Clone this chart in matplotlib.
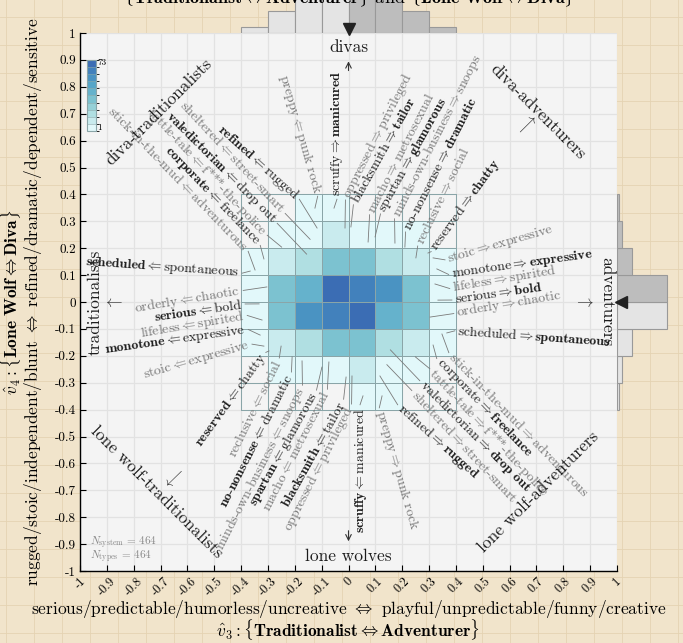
import numpy as np
import matplotlib
matplotlib.use('Agg')
from matplotlib import pyplot as plt
from matplotlib.colors import ListedColormap, BoundaryNorm
from matplotlib.lines import Line2D

plt.rcParams['font.family'] = ['cmr10', 'DejaVu Serif']
plt.rcParams['mathtext.fontset'] = 'cm'
plt.rcParams['axes.unicode_minus'] = False
plt.rcParams['axes.formatter.use_mathtext'] = True

# --- data -------------------------------------------------------------
x_edges = [-0.4, -0.3, -0.2, -0.1, 0.0, 0.1, 0.2, 0.3, 0.4]
y_edges = [-0.4, -0.3, -0.2, -0.1, 0.0, 0.1, 0.2, 0.3, 0.4]
# rows from top (v4 in 0.3..0.4) to bottom (v4 in -0.4..-0.3)
counts = [
  [0, 0, 3, 3, 0, 0, 0, 0],
  [0, 2, 3, 4, 3, 2, 1, 0],
  [2, 4, 6, 12, 12, 6, 4, 2],
  [2, 10, 16, 73, 28, 22, 10, 2],
  [2, 10, 22, 28, 73, 16, 10, 2],
  [2, 4, 6, 12, 12, 6, 4, 2],
  [0, 1, 2, 3, 4, 3, 2, 0],
  [0, 0, 0, 0, 3, 3, 0, 0],
]
n_system = 464
n_types = 464

cmap_colors = ['#e2f8fa', '#c9ebee', '#b0dfe2', '#95d0d7', '#7cc2d0',
               '#65b2cc', '#55a5c8', '#4a93c2', '#4281bc', '#3b6db4']
cmap_bounds = [1, 3.5, 5, 7, 9, 14, 18, 21, 27, 50, 73.5]

# trait pairs (left pole, right pole, emphasised)
pairs = [
  ('stoic', 'expressive', False),
  ('monotone', 'expressive', True),
  ('lifeless', 'spirited', False),
  ('serious', 'bold', True),
  ('orderly', 'chaotic', False),
  ('scheduled', 'spontaneous', True),
  ('stick-in-the-mud', 'adventurous', False),
  ('corporate', 'freelance', True),
  ('tattle-tale', 'f***-the-police', False),
  ('valedictorian', 'drop out', True),
  ('sheltered', 'street-smart', False),
  ('refined', 'rugged', True),
  ('preppy', 'punk rock', False),
  ('scruffy', 'manicured', True),
  ('oppressed', 'privileged', False),
  ('blacksmith', 'tailor', True),
  ('macho', 'metrosexual', False),
  ('spartan', 'glamorous', True),
  ('minds-own-business', 'snoops', False),
  ('no-nonsense', 'dramatic', True),
  ('reclusive', 'social', False),
  ('reserved', 'chatty', True),
]
# label layout: anchor x, y, rotation, reads outward, leader inner point
layout = [
  (0.371, 0.160, 16, True, 0.315, 0.164),
  (0.385, 0.104, 8, True, 0.329, 0.123),
  (0.389, 0.052, 9.5, True, 0.322, 0.067),
  (0.397, 0.009, 8, True, 0.333, 0.007),
  (0.404, -0.041, 9.5, True, 0.304, -0.056),
  (0.408, -0.108, -4, True, 0.366, -0.115),
  (-0.382, 0.197, -46, False, -0.348, 0.119),
  (-0.337, 0.219, -46, False, -0.315, 0.160),
  (-0.311, 0.257, -47, False, -0.249, 0.204),
  (-0.274, 0.301, -45, False, -0.156, 0.178),
  (-0.244, 0.338, -47, False, -0.143, 0.233),
  (-0.192, 0.390, -42, False, -0.117, 0.275),
  (-0.118, 0.405, -74, False, -0.125, 0.349),
  (-0.043, 0.394, 90, True, -0.054, 0.349),
  (-0.006, 0.390, 63, True, -0.013, 0.275),
  (0.024, 0.372, 61, True, 0.009, 0.279),
  (0.084, 0.335, 63, True, 0.073, 0.223),
  (0.125, 0.338, 61, True, 0.099, 0.242),
  (0.177, 0.320, 63, True, 0.173, 0.219),
  (0.218, 0.271, 63, True, 0.210, 0.204),
  (0.263, 0.219, 64, True, 0.251, 0.164),
  (0.315, 0.197, 54, True, 0.296, 0.182),
]

regions = ['divas', 'lone wolves', 'traditionalists', 'adventurers',
           'diva-traditionalists', 'diva-adventurers',
           'lone wolf-traditionalists', 'lone wolf-adventurers']
region_pos = [(0, 0.948, 0), (0, -0.944, 0), (-0.944, 0, 90), (0.962, 0, -90),
              (-0.705, 0.707, 45), (0.706, 0.707, -45),
              (-0.714, -0.705, -45), (0.709, -0.705, 45)]

ticks = np.round(np.linspace(-1, 1, 21), 1)
tick_labels = ['%g' % t for t in ticks]

# --- figure -----------------------------------------------------------
fig = plt.figure(figsize=(6.83, 6.43), dpi=100, facecolor='#f1e4cb')

# faint graph-paper pattern in the background
for px in np.arange(6, 683, 28):
  fig.add_artist(Line2D([px/683, px/683], [0, 1], color='#e4d3b2', lw=0.6, zorder=-5))
for py in np.arange(10, 643, 28):
  fig.add_artist(Line2D([0, 1], [py/643, py/643], color='#e4d3b2', lw=0.6, zorder=-5))

L, B, W, H = 80/683, 72/643, 537/683, 538/643
ax = fig.add_axes([L, B, W, H])
ax.set_facecolor('#f4f4f4')
ax.set_xlim(-1, 1)
ax.set_ylim(-1, 1)
ax.set_xticks(ticks)
ax.set_yticks(ticks)
ax.set_xticklabels(tick_labels, rotation=45, fontsize=9)
ax.set_yticklabels(tick_labels, fontsize=9.5)
ax.tick_params(direction='in', length=4, width=0.8, pad=3)
ax.grid(True, color='#e2e2e2', lw=0.9)
ax.set_axisbelow(True)
for s in ['top', 'right']:
  ax.spines[s].set_visible(False)
for s in ['left', 'bottom']:
  ax.spines[s].set_linewidth(1.0)

cmap = ListedColormap(cmap_colors)
norm = BoundaryNorm(cmap_bounds, cmap.N)
Z = np.ma.masked_equal(np.array(counts)[::-1], 0)
mesh = ax.pcolormesh(x_edges, y_edges, Z, cmap=cmap, norm=norm,
                     edgecolors='#8aa5a8', linewidth=0.6, zorder=2)

# colorbar
cax = ax.inset_axes([-0.975, 0.636, 0.035, 0.264], transform=ax.transData)
cb = fig.colorbar(mesh, cax=cax, spacing='uniform', drawedges=True)
cb.set_ticks([])
cb.outline.set_edgecolor('#8aa5a8')
cb.dividers.set_color('#8aa5a8')
ax.text(-0.935, 0.888, str(max(max(r) for r in counts)), fontsize=6.5, va='center')
ax.text(-0.935, 0.648, str(min(v for r in counts for v in r if v > 0)),
        fontsize=6.5, va='center')

# trait labels and their mirrored partners
dark_c, gray_c = '#1c1c1c', '#777777'

def bold(s):
  return '-'.join(r'$\mathbf{' + p.replace(' ', r'\ ') + '}$' for p in s.split('-'))

for (a, b, dark), (x, y, rot, outward, xi, yi) in zip(pairs, layout):
  for sgn in (1, -1):
    out = outward if sgn == 1 else not outward
    aa, bb = a, b
    if dark:
      if out:
        bb = bold(b)
      else:
        aa = bold(a)
    arrow = r'$\Rightarrow$' if out else r'$\Leftarrow$'
    tx, ty = sgn * x, sgn * y
    ax.text(tx, ty, aa + arrow + bb, rotation=rot, rotation_mode='anchor',
            ha='left' if out else 'right', va='center', fontsize=10,
            color=dark_c if dark else gray_c, zorder=4)
    d = np.array([np.cos(np.radians(rot)), np.sin(np.radians(rot))])
    p0 = np.array([tx, ty]) + (-0.012 if out else 0.012) * d
    ax.plot([p0[0], sgn * xi], [p0[1], sgn * yi], color='#7a7a7a', lw=0.6, zorder=3)

for name, (x, y, rot) in zip(regions, region_pos):
  ax.text(x, y, name, rotation=rot, ha='center', va='center', fontsize=12.5,
          color='#1c1c1c', rotation_mode='anchor', zorder=4)

for x, y, s in [(-0.875, 0, r'$\leftarrow$'), (0.878, 0, r'$\rightarrow$'),
                (0.664, 0.658, r'$\nearrow$'), (-0.653, -0.655, r'$\swarrow$')]:
  ax.text(x, y, s, ha='center', va='center', fontsize=12, color='#333333')
ax.annotate('', xy=(0, 0.905), xytext=(0, 0.85),
            arrowprops=dict(arrowstyle='->', lw=0.8, color='#333333'))
ax.annotate('', xy=(0, -0.9), xytext=(0, -0.84),
            arrowprops=dict(arrowstyle='->', lw=0.8, color='#333333'))

ax.text(-0.962, -0.896, r'$N_{\mathrm{system}}$ = %d' % n_system,
        fontsize=8, color='#8a8a8a', va='center')
ax.text(-0.962, -0.948, r'$N_{\mathrm{types}}$ = %d' % n_types,
        fontsize=8, color='#8a8a8a', va='center')

# marginal histograms
cnt = np.array(counts)[::-1]
xc = (np.array(x_edges[:-1]) + np.array(x_edges[1:])) / 2
yc = (np.array(y_edges[:-1]) + np.array(y_edges[1:])) / 2
col_sum = cnt.sum(axis=0)
row_sum = cnt.sum(axis=1)

ax_t = fig.add_axes([L, B + H, W, 60/643])
ax_t.bar(xc, col_sum, width=0.1,
         color=['#bdbdbd' if v > 0 else '#e4e4e4' for v in xc],
         edgecolor='#999999', lw=0.8)
ax_t.set_xlim(-1, 1)
ax_t.set_ylim(0, 86)
ax_t.axis('off')
ax_t.plot([np.sum(col_sum * xc) / col_sum.sum()], [5.5], marker='v',
          color='#222222', ms=8, clip_on=False)

ax_r = fig.add_axes([L + W, B, 60/683, H])
ax_r.barh(yc, row_sum, height=0.1,
          color=['#bdbdbd' if v > 0 else '#e4e4e4' for v in yc],
          edgecolor='#999999', lw=0.8)
ax_r.set_ylim(-1, 1)
ax_r.set_xlim(0, 195)
ax_r.axis('off')
ax_r.plot([12], [np.sum(row_sum * yc) / row_sum.sum()], marker='<',
          color='#222222', ms=8, clip_on=False)

# axis titles
fig.text(0.510, 1 - 609/643,
         r'serious/predictable/humorless/uncreative $\Leftrightarrow$ playful/unpredictable/funny/creative',
         ha='center', va='center', fontsize=12.5)
fig.text(0.510, 1 - 630/643,
         r'$\hat{v}_3:\{\mathbf{Traditionalist}\Leftrightarrow\mathbf{Adventurer}\}$',
         ha='center', va='center', fontsize=12.5)
fig.text(33/683, 1 - 302/643,
         r'rugged/stoic/independent/blunt $\Leftrightarrow$ refined/dramatic/dependent/sensitive',
         ha='center', va='center', rotation=90, fontsize=12.5)
fig.text(11/683, 1 - 302/643,
         r'$\hat{v}_4:\{\mathbf{Lone\ Wolf}\Leftrightarrow\mathbf{Diva}\}$',
         ha='center', va='center', rotation=90, fontsize=12.5)
fig.text(0.510, 1 - 3/643,
         r'$\{\mathbf{Traditionalist}\Leftrightarrow\mathbf{Adventurer}\}$ and $\{\mathbf{Lone\ Wolf}\Leftrightarrow\mathbf{Diva}\}$',
         ha='center', va='baseline', fontsize=13)

fig.savefig('out.png', dpi=100, facecolor=fig.get_facecolor())
